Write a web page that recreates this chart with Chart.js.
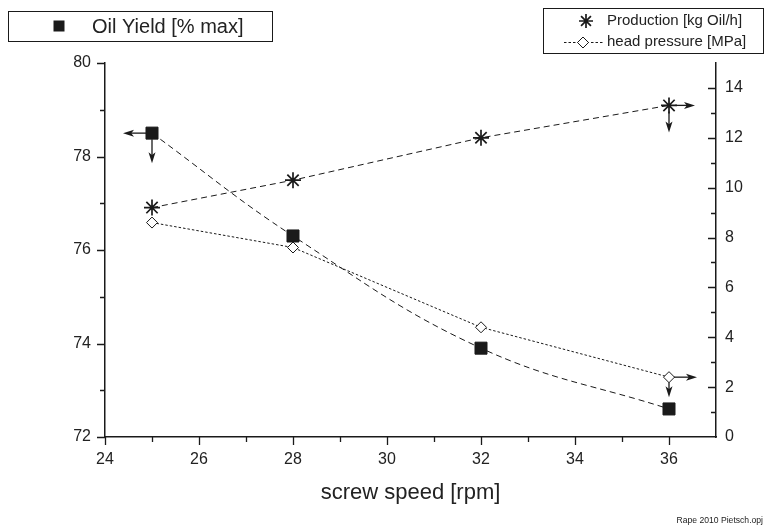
<!DOCTYPE html>
<html><head><meta charset="utf-8">
<script src="https://cdn.jsdelivr.net/npm/chart.js@4/dist/chart.umd.min.js"></script>
<style>html,body{margin:0;padding:0;background:#fff}canvas{display:block}</style>
</head><body>
<canvas id="c" width="767" height="530"></canvas>
<script>
// ---- data ----
const screwSpeed   = [25, 28, 32, 36];
const oilYield     = [78.5, 76.3, 73.9, 72.6];   // left axis
const production   = [9.2, 10.3, 12.0, 13.3];    // right axis
const headPressure = [8.6, 7.6, 4.4, 2.4];       // right axis
const xTicks      = [24, 26, 28, 30, 32, 34, 36];
const yLeftTicks  = [72, 74, 76, 78, 80];
const yRightTicks = [0, 2, 4, 6, 8, 10, 12, 14];

const INK = '#1a1a1a';
const TXT = '#222';
const FONT = "'Liberation Sans', Arial, sans-serif";

function pts(ys) { return screwSpeed.map((s, i) => ({ x: s, y: ys[i] })); }

function arrow(ctx, x0, y0, x1, y1) {
  const a = Math.atan2(y1 - y0, x1 - x0), hl = 11, hw = 3.5;
  const c = Math.cos(a), s = Math.sin(a);
  ctx.beginPath(); ctx.moveTo(x0, y0); ctx.lineTo(x1 - c * hl * 0.6, y1 - s * hl * 0.6); ctx.stroke();
  ctx.beginPath();
  ctx.moveTo(x1, y1);
  ctx.lineTo(x1 - c * hl - s * hw, y1 - s * hl + c * hw);
  ctx.lineTo(x1 - c * hl * 0.75, y1 - s * hl * 0.75);
  ctx.lineTo(x1 - c * hl + s * hw, y1 - s * hl - c * hw);
  ctx.closePath(); ctx.fill();
}

function star(ctx, x, y, r) {
  ctx.beginPath();
  for (let k = 0; k < 4; k++) {
    const a = k * Math.PI / 4;
    ctx.moveTo(x - Math.cos(a) * r, y - Math.sin(a) * r);
    ctx.lineTo(x + Math.cos(a) * r, y + Math.sin(a) * r);
  }
  ctx.stroke();
}

const decoPlugin = {
  id: 'deco',
  afterDraw(chart) {
    const { ctx, chartArea: a } = chart;
    const { x, y, y1 } = chart.scales;
    ctx.save();
    ctx.strokeStyle = INK; ctx.fillStyle = INK; ctx.lineWidth = 1.3; ctx.setLineDash([]);
    // tick marks (major + minor)
    ctx.beginPath();
    for (let v = x.min; v < x.max; v++) {
      const px = Math.round(x.getPixelForValue(v)) + 0.5;
      ctx.moveTo(px, a.bottom); ctx.lineTo(px, a.bottom + (v % 2 === 0 ? 8 : 5));
    }
    for (let v = y.min; v <= y.max; v++) {
      const py = Math.round(y.getPixelForValue(v)) + 0.5;
      ctx.moveTo(a.left, py); ctx.lineTo(a.left - (v % 2 === 0 ? 8 : 5), py);
    }
    for (let v = y1.min + 1; v < y1.max; v++) {
      const py = Math.round(y1.getPixelForValue(v)) + 0.5;
      ctx.moveTo(a.right, py); ctx.lineTo(a.right - (v % 2 === 0 ? 8 : 5), py);
    }
    ctx.stroke();

    // arrows pointing to the axis of each series
    ctx.lineWidth = 1.3;
    const m0 = chart.getDatasetMeta(0).data, m1 = chart.getDatasetMeta(1).data, m2 = chart.getDatasetMeta(2).data;
    const p0 = m0[0];
    arrow(ctx, p0.x - 6, p0.y, p0.x - 29, p0.y);
    arrow(ctx, p0.x, p0.y + 6, p0.x, p0.y + 30);
    const p1 = m1[m1.length - 1];
    arrow(ctx, p1.x + 6, p1.y, p1.x + 26, p1.y);
    arrow(ctx, p1.x, p1.y + 6, p1.x, p1.y + 27);
    const p2 = m2[m2.length - 1];
    arrow(ctx, p2.x + 5, p2.y, p2.x + 28, p2.y);
    arrow(ctx, p2.x, p2.y + 5, p2.x, p2.y + 20);

    // legend box 1
    ctx.lineWidth = 1;
    ctx.strokeRect(8.5, 11.5, 264, 30);
    ctx.fillRect(53.5, 20.5, 11, 11);
    ctx.fillStyle = TXT; ctx.font = '20px ' + FONT; ctx.textBaseline = 'middle'; ctx.textAlign = 'left';
    ctx.fillText(chart.data.datasets[0].label, 92, 27);

    // legend box 2
    ctx.strokeStyle = INK; ctx.lineWidth = 1;
    ctx.strokeRect(543.5, 8.5, 220, 45);
    ctx.lineWidth = 1.7;
    star(ctx, 586, 21, 7);
    ctx.lineWidth = 1; ctx.setLineDash([2.5, 2]);
    ctx.beginPath(); ctx.moveTo(564, 42.5); ctx.lineTo(603, 42.5); ctx.stroke();
    ctx.setLineDash([]);
    ctx.fillStyle = '#fff';
    ctx.beginPath(); ctx.moveTo(583, 37); ctx.lineTo(588.5, 42.5); ctx.lineTo(583, 48); ctx.lineTo(577.5, 42.5); ctx.closePath(); ctx.fill(); ctx.stroke();
    ctx.fillStyle = TXT; ctx.font = '15px ' + FONT;
    ctx.fillText(chart.data.datasets[1].label, 607, 21);
    ctx.fillText(chart.data.datasets[2].label, 607, 42);

    // footnote
    ctx.font = '8.6px ' + FONT; ctx.textAlign = 'right';
    ctx.fillText('Rape 2010 Pietsch.opj', 763, 521);
    ctx.restore();
  }
};

const tickFont = { family: FONT, size: 16 };

new Chart(document.getElementById('c'), {
  type: 'line',
  data: {
    datasets: [
      { label: 'Oil Yield [% max]', data: pts(oilYield), yAxisID: 'y',
        borderColor: INK, backgroundColor: INK, borderWidth: 1, borderDash: [6, 4], tension: 0.4,
        pointStyle: 'rect', pointRadius: 8.5, pointBorderWidth: 1, pointBackgroundColor: INK, pointBorderColor: INK },
      { label: 'Production [kg Oil/h]', data: pts(production), yAxisID: 'y1',
        borderColor: INK, backgroundColor: INK, borderWidth: 1, borderDash: [6, 4], tension: 0,
        pointStyle: 'star', pointRadius: 8, pointBorderWidth: 1.7, pointBorderColor: INK },
      { label: 'head pressure [MPa]', data: pts(headPressure), yAxisID: 'y1',
        borderColor: INK, backgroundColor: '#fff', borderWidth: 1, borderDash: [2.5, 2], tension: 0,
        pointStyle: 'rectRot', pointRadius: 5.5, pointBorderWidth: 1, pointBackgroundColor: '#fff', pointBorderColor: INK }
    ]
  },
  options: {
    responsive: false, animation: false, devicePixelRatio: 1,
    layout: { padding: { top: 63, left: 0, right: 0, bottom: 0 } },
    plugins: { legend: { display: false }, tooltip: { enabled: false } },
    scales: {
      x: {
        type: 'linear', min: 24, max: 37,
        afterBuildTicks: s => { s.ticks = xTicks.map(v => ({ value: v })); },
        afterFit: s => { s.height = 93; },
        grid: { display: false, drawTicks: false },
        border: { display: true, color: INK, width: 1.5 },
        ticks: { color: TXT, font: tickFont, padding: 13, maxRotation: 0 },
        title: { display: true, text: 'screw speed [rpm]', color: TXT, font: { family: FONT, size: 22 }, padding: { top: 0, bottom: 24 } }
      },
      y: {
        type: 'linear', position: 'left', min: 72, max: 80,
        afterBuildTicks: s => { s.ticks = yLeftTicks.map(v => ({ value: v })); },
        afterFit: s => { s.width = 105; },
        grid: { display: false, drawTicks: false },
        border: { display: true, color: INK, width: 1.5 },
        ticks: { color: TXT, font: tickFont, padding: 14 }
      },
      y1: {
        type: 'linear', position: 'right', min: 0, max: 15,
        afterBuildTicks: s => { s.ticks = yRightTicks.map(v => ({ value: v })); },
        afterFit: s => { s.width = 51; },
        grid: { display: false, drawTicks: false },
        border: { display: true, color: INK, width: 1.5 },
        ticks: { color: TXT, font: tickFont, padding: 9 }
      }
    }
  },
  plugins: [decoPlugin]
});
</script>
</body></html>
